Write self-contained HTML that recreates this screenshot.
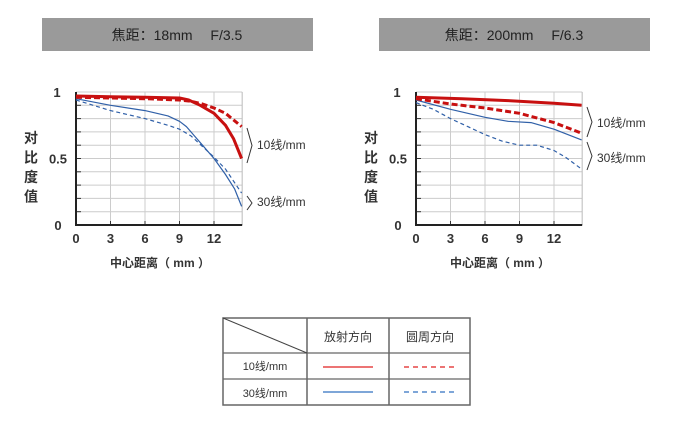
<!DOCTYPE html>
<html><head><meta charset="utf-8"><style>
body{margin:0;background:#fff;width:695px;height:433px;overflow:hidden}
svg{display:block}
text{font-family:"Liberation Sans","Noto Sans CJK SC",sans-serif}
</style></head><body>
<svg id="s" width="695" height="433" xmlns="http://www.w3.org/2000/svg">
<rect x="42" y="18" width="271" height="33" fill="#9a9a9a"/>
<text x="177" y="40" font-size="14" text-anchor="middle" fill="#222">焦距：18mm　 F/3.5</text>
<rect x="379" y="18" width="271" height="33" fill="#9a9a9a"/>
<text x="514" y="40" font-size="14" text-anchor="middle" fill="#222">焦距：200mm　 F/6.3</text>
<g id="tbl" font-size="11" fill="#333" text-anchor="middle">
<rect x="223" y="318" width="247" height="87" fill="none" stroke="#666" stroke-width="1.5"/>
<line x1="307" y1="318" x2="307" y2="405" stroke="#666" stroke-width="1.5"/>
<line x1="389" y1="318" x2="389" y2="405" stroke="#666" stroke-width="1.5"/>
<line x1="223" y1="353" x2="470" y2="353" stroke="#666" stroke-width="1.2"/>
<line x1="223" y1="379" x2="470" y2="379" stroke="#666" stroke-width="1.2"/>
<line x1="223" y1="318" x2="307" y2="353" stroke="#444" stroke-width="1"/>
<text x="348" y="341" font-size="12">放射方向</text>
<text x="430" y="341" font-size="12">圆周方向</text>
<text x="265" y="370">10线/mm</text>
<text x="265" y="397">30线/mm</text>
<line x1="323" y1="367" x2="373" y2="367" stroke="#e02020" stroke-width="1.3"/>
<line x1="404" y1="367" x2="455" y2="367" stroke="#e02020" stroke-width="1.3" stroke-dasharray="5,4"/>
<line x1="323" y1="392" x2="373" y2="392" stroke="#3070c0" stroke-width="1.3"/>
<line x1="404" y1="392" x2="455" y2="392" stroke="#3070c0" stroke-width="1.3" stroke-dasharray="5,4"/>
</g>
</svg>
<script>
const s=document.getElementById('s');
function add(h){s.insertAdjacentHTML('beforeend',h);}
function chart(x0,curves,labels){
  const X=m=>x0+11.5*m, Y=v=>225-133*v, xe=X(14.45);
  let h='';
  for(let i=1;i<10;i++)h+=`<line x1="${x0}" y1="${Y(i/10)}" x2="${xe}" y2="${Y(i/10)}" stroke="#ccc" stroke-width="1"/><line x1="${x0}" y1="${Y(i/10)}" x2="${x0+5}" y2="${Y(i/10)}" stroke="#333" stroke-width="1"/>`;
  h+=`<line x1="${x0}" y1="${Y(1)}" x2="${xe}" y2="${Y(1)}" stroke="#ccc"/>`;
  for(let m=3;m<=12;m+=3)h+=`<line x1="${X(m)}" y1="${Y(1)}" x2="${X(m)}" y2="225" stroke="#ccc"/><line x1="${X(m)}" y1="225" x2="${X(m)}" y2="221" stroke="#333"/>`;
  h+=`<line x1="${xe}" y1="${Y(1)}" x2="${xe}" y2="225" stroke="#bbb"/>`;
  h+=`<line x1="${x0}" y1="${Y(1)}" x2="${x0}" y2="226" stroke="#222" stroke-width="2"/><line x1="${x0-1}" y1="225" x2="${xe}" y2="225" stroke="#222" stroke-width="2"/>`;
  for(const c of curves){
    const pts=c.p.map(([m,v])=>X(m).toFixed(1)+','+Y(v).toFixed(1));
    h+=`<polyline points="${pts.join(' ')}" fill="none" stroke="${c.c}" stroke-width="${c.w}" ${c.d?`stroke-dasharray="${c.d}"`:''} stroke-linejoin="round"/>`;
  }
  h+=`<g font-size="13" font-weight="bold" fill="#333" text-anchor="middle">`;
  h+=`<text x="${x0-19}" y="${Y(1)+5}">1</text><text x="${x0-18}" y="${Y(.5)+5}">0.5</text><text x="${x0-18}" y="230">0</text>`;
  [0,3,6,9,12].forEach(m=>h+=`<text x="${X(m)}" y="243">${m}</text>`);
  h+=`</g><g font-size="14" font-weight="bold" fill="#333" text-anchor="middle">`;
  ['对','比','度','值'].forEach((t,i)=>h+=`<text x="${x0-45}" y="${143+i*19.5}">${t}</text>`);
  h+=`<text x="${X(7.3)}" y="267" font-size="12">中心距离（ mm ）</text></g>`;
  for(const l of labels){
    h+=`<polyline points="${x0+171},${l.a} ${x0+176},${(l.a+l.b)/2} ${x0+171},${l.b}" fill="none" stroke="#333" stroke-width="1"/>`;
    h+=`<text x="${x0+181}" y="${l.t}" font-size="12" fill="#333">${l.s}</text>`;
  }
  add(h);
}
chart(76,[
 {c:'#3060a8',w:1.2,d:'4,3',p:[[0,.94],[3,.86],[6,.8],[8,.75],[9,.72],[10,.67],[11,.59],[12,.51],[13,.42],[14.4,.24]]},
 {c:'#3060a8',w:1.2,p:[[0,.95],[3,.9],[6,.86],[8,.82],[9,.78],[9.6,.74],[10.3,.67],[11,.6],[12,.5],[13,.38],[13.8,.27],[14.4,.14]]},
 {c:'#c81010',w:3,d:'6,3',p:[[0,.96],[3,.955],[6,.95],[9,.94],[10,.93],[11,.91],[12,.88],[13,.84],[14.4,.74]]},
 {c:'#c81010',w:3,p:[[0,.97],[3,.965],[6,.96],[9,.955],[9.8,.94],[10.8,.9],[12,.84],[13,.75],[13.7,.65],[14.4,.5]]}
],[{a:128,b:163,t:149,s:'10线/mm'},{a:196,b:210,t:206,s:'30线/mm'}]);
chart(416,[
 {c:'#3060a8',w:1.2,d:'4,3',p:[[0,.92],[1.5,.87],[3,.8],[4.5,.74],[6,.68],[7.5,.63],[9,.6],[10.5,.6],[12,.56],[13,.51],[14.4,.42]]},
 {c:'#3060a8',w:1.2,p:[[0,.94],[3,.87],[6,.81],[8,.78],[10,.77],[12,.72],[13.2,.68],[14.4,.64]]},
 {c:'#c81010',w:3,d:'6,3',p:[[0,.95],[3,.91],[6,.88],[9,.84],[12,.77],[13.2,.73],[14.4,.69]]},
 {c:'#c81010',w:3,p:[[0,.96],[4,.95],[8,.935],[12,.915],[14.4,.9]]}
],[{a:107,b:137,t:127,s:'10线/mm'},{a:142,b:170,t:162,s:'30线/mm'}]);
</script>
</body></html>
